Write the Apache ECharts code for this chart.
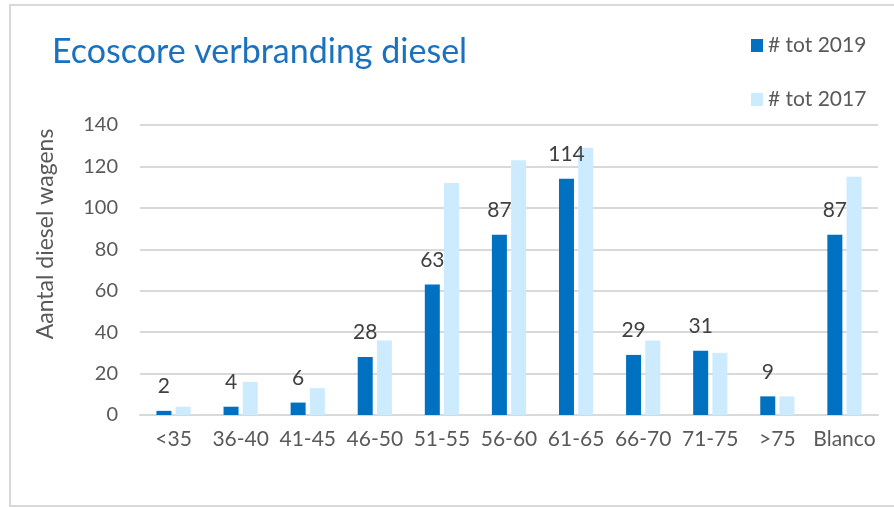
<!DOCTYPE html>
<html>
<head>
<meta charset="utf-8">
<script src="https://cdn.jsdelivr.net/npm/echarts@6/dist/echarts.min.js"></script>
<style>
  html, body { margin: 0; padding: 0; background: #fff; }
  #chart { width: 894px; height: 507px; }
</style>
</head>
<body>
<div id="chart"></div>
<script>
// categorieën ecoscore
var categories = ['<35', '36-40', '41-45', '46-50', '51-55', '56-60', '61-65', '66-70', '71-75', '>75', 'Blanco'];
var tot2019 = [2, 4, 6, 28, 63, 87, 114, 29, 31, 9, 87];
var tot2017 = [4, 16, 13, 36, 112, 123, 129, 36, 30, 9, 115];
var yTicks = { min: 0, max: 140, interval: 20 };

var font = 'Lato, "Open Sans", sans-serif';

var myChart = echarts.init(document.getElementById('chart'));
myChart.setOption({
    animation: false,
    backgroundColor: '#fff',
    title: {
        text: 'Ecoscore verbranding diesel',
        left: 47,
        top: 30,
        textStyle: { color: '#1a72bf', fontSize: 34, fontWeight: 'normal', fontFamily: font }
    },
    legend: {
        orient: 'vertical',
        left: 746,
        top: 30,
        itemWidth: 12,
        itemHeight: 13,
        itemGap: 33,
        icon: 'rect',
        textStyle: { color: '#595959', fontSize: 21, fontFamily: font },
        data: ['# tot 2019', '# tot 2017']
    },
    grid: { left: 140, right: 16, top: 125, bottom: 92 },
    graphic: [{
        type: 'rect',
        silent: true,
        shape: { x: 10, y: 5, width: 900, height: 501 },
        style: { fill: 'none', stroke: '#d9d9d9', lineWidth: 2 }
    }, {
        type: 'text',
        x: 46,
        y: 234,
        rotation: Math.PI / 2,
        style: {
            text: 'Aantal diesel wagens',
            fill: '#595959',
            fontSize: 23,
            fontFamily: font,
            align: 'center',
            verticalAlign: 'middle'
        }
    }],
    xAxis: {
        type: 'category',
        data: categories,
        axisTick: { show: false },
        axisLine: { lineStyle: { color: '#d9d9d9', width: 2 } },
        axisLabel: { color: '#595959', fontSize: 21, fontFamily: font, margin: 14, interval: 0 }
    },
    yAxis: {
        type: 'value',
        min: yTicks.min,
        max: yTicks.max,
        interval: yTicks.interval,
        axisLine: { show: false },
        axisTick: { show: false },
        axisLabel: { color: '#595959', fontSize: 20, fontFamily: font, margin: 22 },
        splitLine: { lineStyle: { color: '#d9d9d9', width: 2 } }
    },
    series: [{
        name: '# tot 2019',
        type: 'bar',
        data: tot2019,
        barWidth: 15,
        barGap: '28%',
        itemStyle: { color: '#0070c0' },
        label: {
            show: true,
            position: 'top',
            distance: 14,
            color: '#404040',
            fontSize: 21,
            fontFamily: font
        }
    }, {
        name: '# tot 2017',
        type: 'bar',
        data: tot2017,
        barWidth: 15,
        itemStyle: { color: '#cdebff' }
    }]
});
</script>
</body>
</html>
